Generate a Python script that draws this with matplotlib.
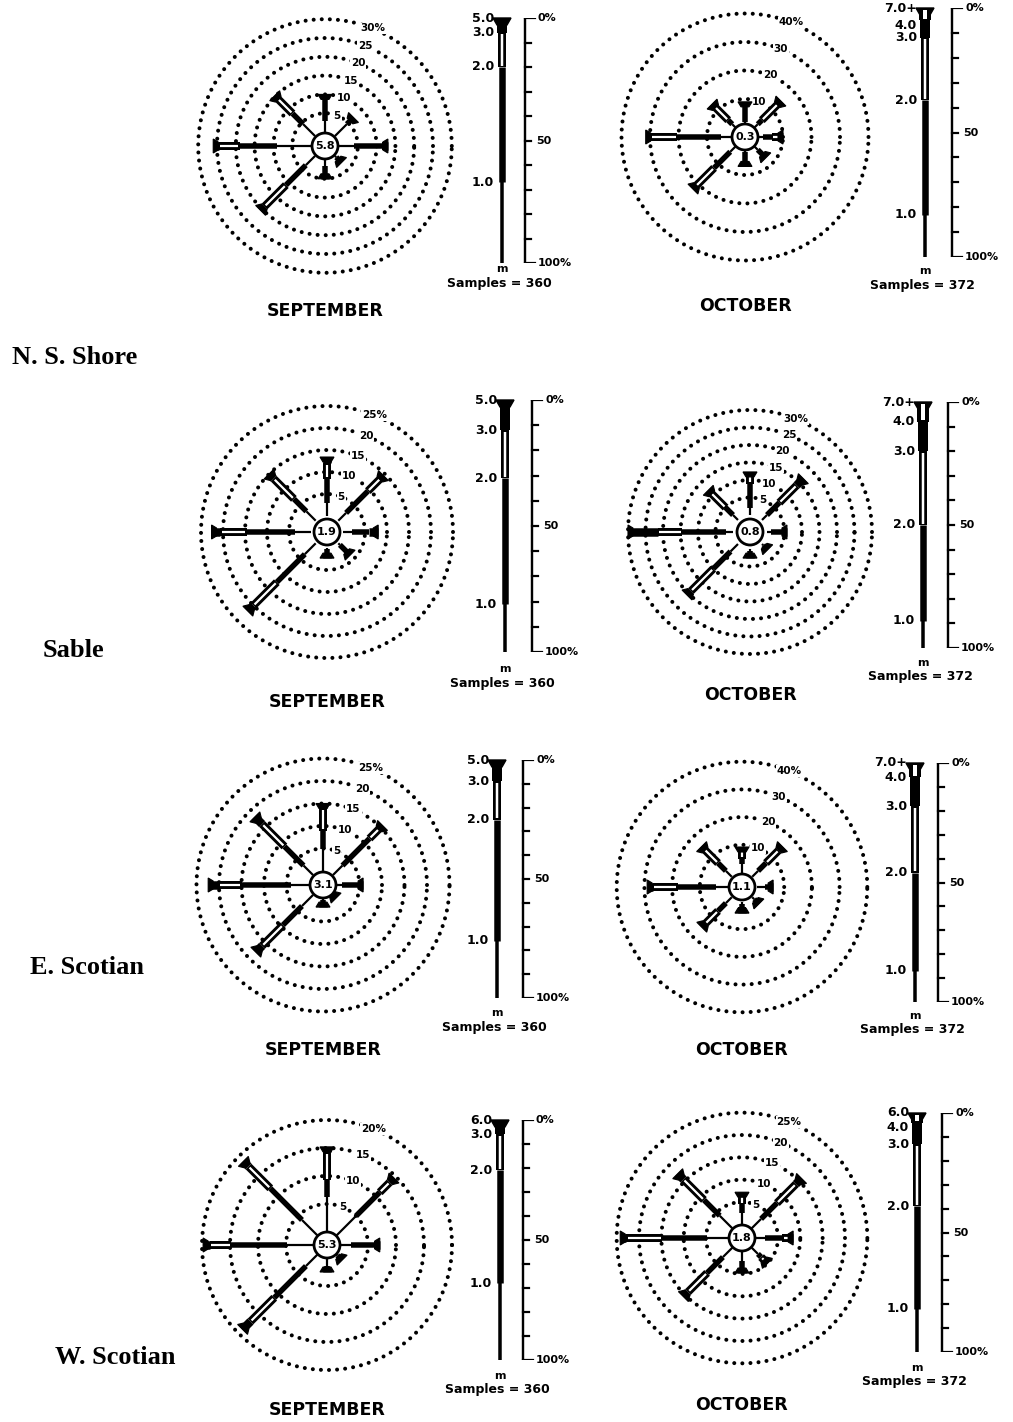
import numpy as np
import matplotlib.pyplot as plt
from matplotlib.patches import Circle, Polygon

W_PX, H_PX = 1013, 1422

# -----------------------------------------------------------------------------
# data
# -----------------------------------------------------------------------------
directions = ['N', 'NE', 'E', 'SE', 'S', 'SW', 'W', 'NW']
dir_deg = [90, 45, 0, -45, -90, -135, 180, 135]

regions = ['N. S. Shore', 'Sable', 'E. Scotian', 'W. Scotian']
months = ['SEPTEMBER', 'OCTOBER']
samples = [360, 372]

# percent of observations along each ray, by height class
# [<1 m, 1-2 m, 2-3 m, >3 m]   (order N, NE, E, SE, S, SW, W, NW)
ns_sep_rays = [[3, 6.5, 0, 0.5], [4.5, 2, 0, 0.5], [4, 7.5, 1, 0.5], [0.5, 1.5, 0, 0.5],
               [1.5, 3, 0, 0.5], [3.5, 7.5, 8, 1.5], [9, 10, 5.5, 1.5], [4.5, 4, 5.5, 1.2]]
ns_oct_rays = [[2, 6.5, 0, 0.5], [3, 2, 8, 1.5], [3, 3, 3, 1], [3, 3, 0, 1],
               [2, 4.5, 0, 0.5], [4, 8, 9, 1.5], [5, 15.5, 9.5, 1.5], [3, 2, 7, 1]]
sable_sep_rays = [[3, 5.5, 3.5, 1.4], [2.5, 7, 4, 1], [2, 4, 0, 2], [0.5, 3, 0, 0.3],
                  [0.3, 1.7, 0, 0.3], [3.5, 9, 7.5, 1.8], [3.6, 11, 6, 2], [3, 4, 6.5, 1.5]]
sable_oct_rays = [[2, 7, 2.5, 0.8], [2, 5, 7, 2.7], [1, 3.5, 0, 1.2], [0.5, 1.5, 0, 0.3],
                  [0.5, 1.8, 0, 0.3], [3, 7, 9, 1.6], [2, 12.5, 7, 8.5], [2, 3, 6, 1]]
escot_sep_rays = [[5, 4, 5, 1], [3, 8.5, 3, 1.1], [1, 4, 0, 0.8], [0.3, 0.5, 0, 0.2],
                  [0.3, 1.2, 0, 0.3], [3.5, 6, 6.5, 2], [4, 11, 5, 2.4], [3, 6, 7, 2.3]]
escot_oct_rays = [[3, 2, 3, 1.2], [3, 4, 6.5, 1.9], [3, 2, 0, 1], [1, 1.5, 0, 0.9],
                  [1, 1, 1.5, 0.7], [3, 4, 6.5, 1.8], [4, 14, 9, 2], [3, 4, 7, 1.4]]
wscot_sep_rays = [[6.2, 3, 5, 1], [5, 6, 2.5, 1.1], [2, 4, 0.6, 0.5], [0.3, 0.9, 0, 0.3],
                  [1.5, 0.5, 0, 0.5], [3, 8, 6, 2], [4.8, 10, 3.8, 1.2], [4, 8, 5.5, 1.3]]
wscot_oct_rays = [[2.5, 2, 2, 0.7], [3, 5, 6, 1.8], [2, 4, 1.5, 0.9], [2, 1, 1.5, 0.5],
                  [2, 2, 0, 0.8], [3, 5, 6, 1.5], [4.8, 10, 8, 1.4], [4, 5, 6.5, 1.8]]

calm = [5.8, 0.3, 1.9, 0.8, 3.1, 1.1, 5.3, 1.8]

ring_vals = [[5, 10, 15, 20, 25, 30], [10, 20, 30, 40],
             [5, 10, 15, 20, 25], [5, 10, 15, 20, 25, 30],
             [5, 10, 15, 20, 25], [10, 20, 30, 40],
             [5, 10, 15, 20], [5, 10, 15, 20, 25]]

# height scale: labels (m) and exceedance percent where they sit
h_labels = [['5.0', '3.0', '2.0', '1.0'], ['7.0+', '4.0', '3.0', '2.0', '1.0'],
            ['5.0', '3.0', '2.0', '1.0'], ['7.0+', '4.0', '3.0', '2.0', '1.0'],
            ['5.0', '3.0', '2.0', '1.0'], ['7.0+', '4.0', '3.0', '2.0', '1.0'],
            ['6.0', '3.0', '2.0', '1.0'], ['6.0', '4.0', '3.0', '2.0', '1.0']]
h_pct = [[0, 6, 20, 67], [0, 5, 12, 37, 83],
         [0, 12, 31, 81], [0, 8, 20, 50, 89],
         [0, 9, 25, 76], [0, 6, 18, 46, 87],
         [0, 6, 21, 68], [0, 4, 13, 39, 82]]

all_rays = [ns_sep_rays, ns_oct_rays, sable_sep_rays, sable_oct_rays,
            escot_sep_rays, escot_oct_rays, wscot_sep_rays, wscot_oct_rays]

# -----------------------------------------------------------------------------
# layout (pixels): rose centre, px per percent, ring offset, scale bar geometry
# -----------------------------------------------------------------------------
rose_geo = [(325, 146, 3.76, 14), (745, 137, 2.85, 9.5),
            (327, 532, 4.4, 16), (750, 532, 3.5, 17),
            (323, 885, 4.5, 14), (742, 887, 2.77, 14.5),
            (327, 1245, 5.6, 13), (742, 1238, 4.47, 13.6)]
scale_geo = [(502, 18, 263, 525), (925, 8, 257, 952),
             (505, 400, 652, 532), (923, 402, 648, 948),
             (497, 760, 998, 523), (915, 763, 1002, 938),
             (500, 1120, 1360, 523), (917, 1113, 1352, 942)]
month_y = [311, 306, 702, 695, 1050, 1050, 1410, 1405]
samples_y = [283, 285, 683, 677, 1027, 1030, 1390, 1382]
region_pos = [(12, 358), (43, 650), (30, 967), (55, 1358)]

PT = 0.72  # points per pixel at dpi 100

fig = plt.figure(figsize=(W_PX / 100, H_PX / 100), dpi=100)


def px_rect(x0, y0, x1, y1):
    return [x0 / W_PX, 1 - y1 / H_PX, (x1 - x0) / W_PX, (y1 - y0) / H_PX]


def draw_rose(cx, cy, k, r0, rays, rings, calm_val):
    half = 140
    ax = fig.add_axes(px_rect(cx - half, cy - half, cx + half, cy + half))
    lim = half / k
    ax.set_xlim(-lim, lim)
    ax.set_ylim(-lim, lim)
    ax.axis('off')
    c = r0 / k
    px = 1.0 / k
    t = np.linspace(0, 2 * np.pi, 500)
    lab_ang = np.radians(68)
    for p in rings:
        rr = c + p
        ax.plot(rr * np.cos(t), rr * np.sin(t), color='k', lw=2.9,
                linestyle=(0, (0.01, 2.0)), dash_capstyle='round', zorder=1)
        lab = '%d%%' % p if p == rings[-1] else '%d' % p
        ax.text(rr * np.cos(lab_ang), rr * np.sin(lab_ang), lab, fontsize=7.5,
                fontweight='bold', ha='center', va='center', zorder=2,
                bbox=dict(fc='white', ec='none', pad=0.6))
    for ang, seg in zip(dir_deg, rays):
        ux, uy = np.cos(np.radians(ang)), np.sin(np.radians(ang))
        edges = c + np.concatenate([[0], np.cumsum(seg)])
        for i in range(4):
            a, b = edges[i], edges[i + 1]
            if b <= a:
                continue
            xs, ys = [a * ux, b * ux], [a * uy, b * uy]
            if i == 0:
                ax.plot(xs, ys, color='k', lw=2.2 * PT, solid_capstyle='butt', zorder=3)
            elif i == 1:
                ax.plot(xs, ys, color='k', lw=5.5 * PT, solid_capstyle='butt', zorder=3)
            elif i == 2:
                ax.plot(xs, ys, color='k', lw=8 * PT, solid_capstyle='butt', zorder=3)
                ax.plot([a * ux + 1.5 * px * ux, b * ux - 1.5 * px * ux],
                        [a * uy + 1.5 * px * uy, b * uy - 1.5 * px * uy],
                        color='white', lw=2.2 * PT, solid_capstyle='butt', zorder=4)
            else:
                ax.plot(xs, ys, color='k', lw=8.5 * PT, solid_capstyle='butt', zorder=3)
        end = edges[-1]
        nx, ny = -uy, ux
        d, w1, w2 = 5 * px, 4 * px, 7 * px
        poly = [((end - d) * ux + w1 * nx, (end - d) * uy + w1 * ny),
                (end * ux + w2 * nx, end * uy + w2 * ny),
                (end * ux - w2 * nx, end * uy - w2 * ny),
                ((end - d) * ux - w1 * nx, (end - d) * uy - w1 * ny)]
        ax.add_patch(Polygon(poly, closed=True, fc='k', ec='k', lw=0.8, zorder=5))
    ax.add_patch(Circle((0, 0), 13 * px, fc='white', ec='k', lw=2.0, zorder=6))
    ax.text(0, 0, '%.1f' % calm_val, fontsize=8, fontweight='bold',
            ha='center', va='center', zorder=7)


def draw_scale(bar_x, top, bottom, brk_x, labels, pcts):
    x0, x1 = bar_x - 70, brk_x + 55
    ax = fig.add_axes(px_rect(x0, top, x1, bottom))
    ax.set_xlim(x0, x1)
    ax.set_ylim(100, 0)
    ax.axis('off')
    ypx = 100.0 / (bottom - top)
    bounds = list(pcts) + [100]
    nseg = len(pcts)
    # from the bottom: thin, medium, hollow, thick, wide hollow
    for j in range(nseg):
        a, b = bounds[nseg - 1 - j], bounds[nseg - j]
        xs = [bar_x, bar_x]
        if j == 0:
            ax.plot(xs, [a, b], color='k', lw=3.5 * PT, solid_capstyle='butt', clip_on=False)
        elif j == 1:
            ax.plot(xs, [a, b], color='k', lw=6.5 * PT, solid_capstyle='butt', clip_on=False)
        elif j == 2:
            ax.plot(xs, [a, b], color='k', lw=8 * PT, solid_capstyle='butt', clip_on=False)
            ax.plot(xs, [a + 1.5 * ypx, b - 1.5 * ypx], color='white', lw=2.5 * PT,
                    solid_capstyle='butt', clip_on=False)
        elif j == 3:
            ax.plot(xs, [a, b], color='k', lw=10 * PT, solid_capstyle='butt', clip_on=False)
        else:
            ax.plot(xs, [a, b], color='k', lw=12 * PT, solid_capstyle='butt', clip_on=False)
            ax.plot(xs, [a + 2 * ypx, b - 1.5 * ypx], color='white', lw=4 * PT,
                    solid_capstyle='butt', clip_on=False)
    # cap at the top
    cap = [(bar_x - 9, 0), (bar_x + 9, 0), (bar_x + 5, 7 * ypx), (bar_x - 5, 7 * ypx)]
    ax.add_patch(Polygon(cap, closed=True, fc='k', ec='k', clip_on=False))
    if nseg > 4:
        inner = [(bar_x - 5, 1.5 * ypx), (bar_x + 5, 1.5 * ypx),
                 (bar_x + 3, 5 * ypx), (bar_x - 3, 5 * ypx)]
        ax.add_patch(Polygon(inner, closed=True, fc='white', ec='none', clip_on=False))
    close_top = pcts[1] - pcts[0] < 6
    for n, (lab, p) in enumerate(zip(labels, pcts)):
        y = p
        if n == 1 and close_top:
            y = p + 5 * ypx
        ax.text(bar_x - 8, y, lab, fontsize=9, fontweight='bold',
                ha='right', va='center', clip_on=False)
    # percent bracket
    ax.plot([brk_x, brk_x], [0, 100], color='k', lw=2.4 * PT, solid_capstyle='projecting')
    for p in range(0, 101, 10):
        ln = 10 if p in (0, 100) else 6
        ax.plot([brk_x, brk_x + ln], [p, p], color='k', lw=2.2 * PT)
    ax.text(brk_x + 13, 0, '0%', fontsize=8, fontweight='bold', ha='left', va='center')
    ax.text(brk_x + 11, 50, '50', fontsize=8, fontweight='bold', ha='left', va='center')
    ax.text(brk_x + 13, 100, '100%', fontsize=8, fontweight='bold', ha='left', va='center')


for i in range(8):
    cx, cy, k, r0 = rose_geo[i]
    draw_rose(cx, cy, k, r0, all_rays[i], ring_vals[i], calm[i])
    bar_x, top, bottom, brk_x = scale_geo[i]
    draw_scale(bar_x, top, bottom, brk_x, h_labels[i], h_pct[i])
    fig.text(bar_x / W_PX, 1 - (samples_y[i] - 14) / H_PX, 'm', fontsize=8,
             fontweight='bold', ha='center', va='center')
    fig.text((bar_x - 3) / W_PX, 1 - samples_y[i] / H_PX, 'Samples = %d' % samples[i % 2],
             fontsize=9, fontweight='bold', ha='center', va='center')
    fig.text(cx / W_PX, 1 - month_y[i] / H_PX, months[i % 2], fontsize=12.5,
             fontweight='bold', ha='center', va='center')

for name, (x, y) in zip(regions, region_pos):
    fig.text(x / W_PX, 1 - y / H_PX, name, fontsize=19, fontweight='bold',
             family='Liberation Serif', ha='left', va='center')

fig.savefig('out.png', dpi=100)
